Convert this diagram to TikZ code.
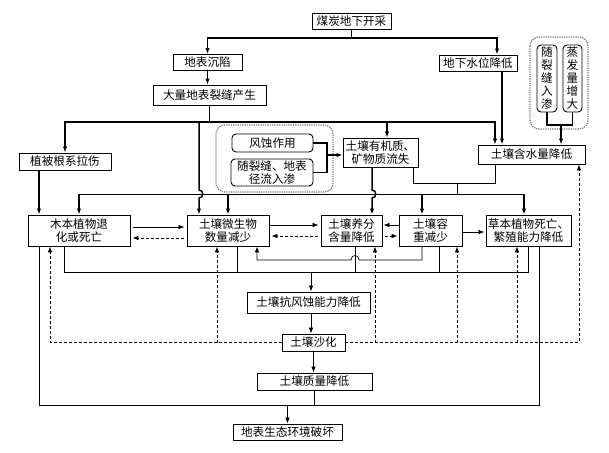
\documentclass[tikz,border=0pt]{standalone}
\usepackage{fontspec}
\newfontfamily\cjk{Noto Sans CJK SC}
\usetikzlibrary{arrows.meta}

\begin{document}
\begin{tikzpicture}[x=1pt,y=-1pt,
  main node/.style={rectangle,draw,line width=0.9pt,inner sep=0pt,align=center,font=\cjk\fontsize{11.6}{13}\selectfont},
  round node/.style={main node,rounded corners=4pt},
  thick line/.style={line width=1.5pt},
  thin line/.style={line width=0.7pt},
  arr/.style={-{Latex[length=6pt,width=4.5pt]}},
  dash line/.style={line width=0.7pt,dash pattern=on 3pt off 2pt},
  group box/.style={draw=gray,line width=1.3pt,densely dotted,rounded corners=9pt}]
  \useasboundingbox (0,0) rectangle (609,452);
  %节点
  \node [main node,minimum width=79,minimum height=16](coal) at (351.5,21) {煤炭地下开采};
  \node [main node,minimum width=69,minimum height=16](subside) at (207.5,62.5) {地表沉陷};
  \node [main node,minimum width=78,minimum height=16](water) at (478,63) {地下水位降低};
  \node [main node,minimum width=113,minimum height=20](crack) at (209.5,95) {大量地表裂缝产生};
  \node [main node,minimum width=92,minimum height=17](root) at (65,161.5) {植被根系拉伤};
  \node [round node,minimum width=81,minimum height=18](wind) at (272.5,143) {风蚀作用};
  \node [round node,minimum width=82,minimum height=27](seep) at (272,172.5) {随裂缝、地表\\径流入渗};
  \node [main node,minimum width=75,minimum height=29](organic) at (380.5,152.5) {土壤有机质、\\矿物质流失};
  \node [main node,minimum width=107,minimum height=19](moist) at (531.5,154.5) {土壤含水量降低};
  \node [round node,minimum width=20,minimum height=67](vseep) at (547,78.5) {随\\裂\\缝\\入\\渗};
  \node [round node,minimum width=19,minimum height=67](evap) at (572.5,78.5) {蒸\\发\\量\\增\\大};
  \node [main node,minimum width=102,minimum height=31](woody) at (79,230.5) {木本植物退\\化或死亡};
  \node [main node,minimum width=82,minimum height=31](microbe) at (228,230.5) {土壤微生物\\数量减少};
  \node [main node,minimum width=61,minimum height=31](nutrient) at (351.5,230.5) {土壤养分\\含量降低};
  \node [main node,minimum width=63,minimum height=31](density) at (430.5,230.5) {土壤容\\重减少};
  \node [main node,minimum width=85,minimum height=31](herb) at (528.5,230.5) {草本植物死亡、\\繁殖能力降低};
  \node [main node,minimum width=123,minimum height=21](resist) at (308.5,302.5) {土壤抗风蚀能力降低};
  \node [main node,minimum width=63,minimum height=17](sand) at (313.5,342.5) {土壤沙化};
  \node [main node,minimum width=115,minimum height=17](quality) at (314.5,381.5) {土壤质量降低};
  \node [main node,minimum width=109,minimum height=16](eco) at (287.5,432) {地表生态环境破坏};
  \draw [group box] (216,125) rectangle (333,192);
  \draw [group box] (530,37) rectangle (588,129);
  %辅助坐标
  \coordinate (ytop) at (0,38);
  \coordinate (ybr) at (0,122);
  \coordinate (mix) at (457,183);
  \coordinate (dist) at (457,194);
  \coordinate (ycol) at (0,272);
  \coordinate (yend) at (0,405);
  \coordinate (vs) at (561,125);
  \coordinate (ws) at (327,155);
  %上部
  \draw [thick line,arr] (coal.south) |- (subside.north |- ytop) -- (subside.north);
  \draw [thick line,arr] (coal.south) |- ([xshift=19pt]water.north |- ytop) -- ([xshift=19pt]water.north);
  \draw [thick line,arr] (subside.south) -- (subside.south |- crack.north);
  \draw [thick line,arr] (crack.south) |- (root.north |- ybr) -- (root.north);
  \draw [thick line,arr] (crack.south) |- ([xshift=-36.5pt]moist.north |- ybr) -- ([xshift=-36.5pt]moist.north);
  \draw [thick line,arr] ([xshift=6.5pt]organic.north |- ybr) -- ([xshift=6.5pt]organic.north);
  \draw [thick line,arr] ([xshift=-29pt]microbe.north |- ybr) -- (199,190) .. controls (204,190) and (204,198) .. (199,198) -- ([xshift=-29pt]microbe.north);
  \draw [thick line,arr] ([xshift=24pt]water.south) -- ([xshift=-29.5pt]moist.north);
  \draw [thick line] (vseep.south) |- (vs);
  \draw [thick line] (evap.south) |- (vs);
  \draw [thick line,arr] (vs) -- (vs |- moist.north);
  \draw [thick line] (wind.east) -| (ws);
  \draw [thick line] (seep.east) -| (ws);
  \draw [thick line,arr] (ws) -- (ws -| organic.west);
  \draw [thick line,arr] ([xshift=-26pt]root.south) -- ([xshift=-26pt]root.south |- woody.north);
  %中部
  \draw [thin line] ([xshift=32.5pt]organic.south) |- (mix);
  \draw [thin line] ([xshift=-36.5pt]moist.south) |- (mix);
  \draw [thin line] (mix) -- (dist);
  \draw [thin line] (woody.north |- dist) -- ([xshift=-4.5pt]herb.north |- dist);
  \draw [thick line,arr] (woody.north |- dist) -- (woody.north);
  \draw [thick line,arr] (microbe.north |- dist) -- (microbe.north);
  \draw [thick line,arr] ([xshift=-8.5pt]density.north |- dist) -- ([xshift=-8.5pt]density.north);
  \draw [thick line,arr] ([xshift=-4.5pt]herb.north |- dist) -- ([xshift=-4.5pt]herb.north);
  \draw [thick line,arr] ([xshift=-8.5pt]organic.south) -- (372,190) .. controls (377,190) and (377,198) .. (372,198) -- ([xshift=20.5pt]nutrient.north);
  \draw [thin line,arr,shorten <=3pt,shorten >=2pt] ([yshift=3.5pt]woody.east) -- ([yshift=3.5pt]microbe.west);
  \draw [dash line,arr,shorten <=3pt,shorten >=2pt] ([yshift=-7.5pt]microbe.west) -- ([yshift=-7.5pt]woody.east);
  \draw [thin line,arr,shorten >=2pt] ([yshift=5.5pt]microbe.east) -- ([yshift=5.5pt]nutrient.west);
  \draw [dash line,arr,shorten <=3pt,shorten >=2pt] ([yshift=-5.5pt]nutrient.west) -- ([yshift=-5.5pt]microbe.east);
  \draw [thin line,arr,shorten >=1pt] ([yshift=5.5pt]density.west) -- ([yshift=5.5pt]nutrient.east);
  \draw [dash line,arr,shorten <=3pt,shorten >=1pt] ([yshift=-5.5pt]nutrient.east) -- ([yshift=-5.5pt]density.west);
  \draw [thin line,arr,shorten >=1pt] ([yshift=-1.5pt]density.east) -- ([yshift=-1.5pt]herb.west);
  %下部
  \draw [thin line] ([xshift=-15pt]woody.south) |- (herb.south |- ycol) -- (herb.south);
  \draw [thin line] ([xshift=9pt]microbe.south) -- ([xshift=9pt]microbe.south |- ycol);
  \draw [thin line] ([xshift=3.5pt]nutrient.south) -- ([xshift=3.5pt]nutrient.south |- ycol);
  \draw [thin line] ([xshift=8.5pt]density.south) -- ([xshift=8.5pt]density.south |- ycol);
  \draw [thin line,arr] ([xshift=2.5pt]resist.north |- ycol) -- ([xshift=2.5pt]resist.north);
  \draw [thin line,arr] ([xshift=-8.5pt]density.south) |- (359,260) .. controls (359,254) and (351,254) .. (351,260) -| ([xshift=29pt]microbe.south);
  \draw [thin line,arr] ([xshift=2.5pt]resist.south) -- ([xshift=2.5pt]resist.south |- sand.north);
  \draw [thin line,arr] (sand.south) -- (sand.south |- quality.north);
  \draw [thin line] ([xshift=-40pt]woody.south) |- ([xshift=10.5pt]herb.south |- yend) -- ([xshift=10.5pt]herb.south);
  \draw [thin line] (quality.south) -- (quality.south |- yend);
  \draw [thin line,arr] (eco.north |- yend) -- (eco.north);
  %反馈
  \draw [dash line,arr] (sand.west) -| ([xshift=-29pt]woody.south);
  \draw [dash line,arr] (sand.east) -| ([xshift=47.5pt]moist.south);
  \draw [dash line,arr] ([xshift=-11pt]microbe.south |- sand) -- ([xshift=-11pt]microbe.south);
  \draw [dash line,arr] ([xshift=23.5pt]nutrient.south |- sand) -- ([xshift=23.5pt]nutrient.south);
  \draw [dash line,arr] ([xshift=26.5pt]density.south |- sand) -- ([xshift=26.5pt]density.south);
  \draw [dash line,arr] ([xshift=-11.5pt]herb.south |- sand) -- ([xshift=-11.5pt]herb.south);
\end{tikzpicture}
\end{document}
